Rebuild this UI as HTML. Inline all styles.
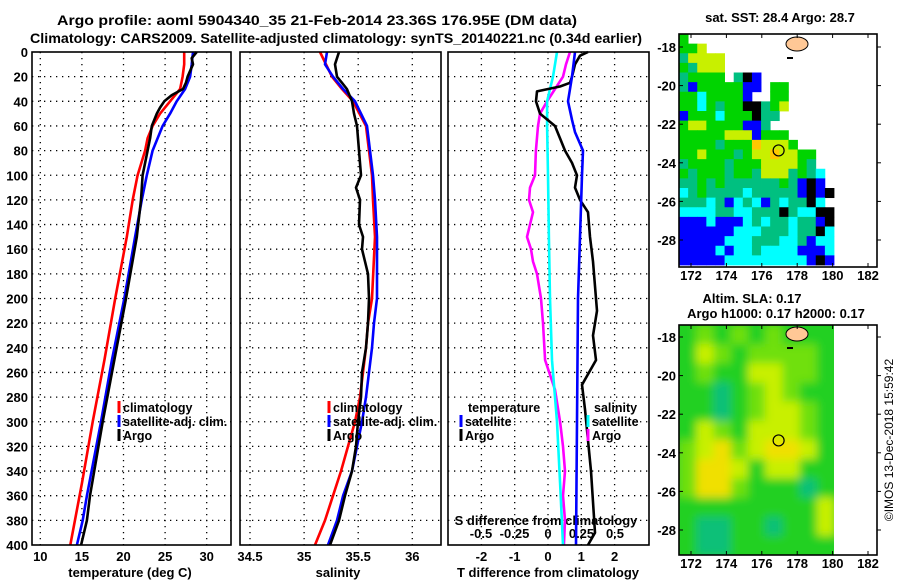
<!DOCTYPE html>
<html><head><meta charset="utf-8"><style>
html,body{margin:0;padding:0;background:#fff;}
svg{display:block;font-family:"Liberation Sans",sans-serif;font-weight:bold;}
</style></head><body>
<svg id="chart" width="900" height="580" viewBox="0 0 900 580" xmlns="http://www.w3.org/2000/svg">
<defs>
<filter id="blur" x="-10%" y="-10%" width="120%" height="120%"><feGaussianBlur stdDeviation="4.5"/></filter>
<clipPath id="clipSla"><rect x="679" y="325" width="155" height="230"/></clipPath>
</defs>
<text x="57" y="25" font-size="14" textLength="520" lengthAdjust="spacingAndGlyphs">Argo profile: aoml 5904340_35 21-Feb-2014 23.36S 176.95E (DM data)</text>
<text x="30" y="43" font-size="14" textLength="612" lengthAdjust="spacingAndGlyphs">Climatology: CARS2009. Satellite-adjusted climatology: synTS_20140221.nc (0.34d earlier)</text>
<g id="g"></g>
</svg>
<script>
// ---------- data ----------
const depthTicks=[0,20,40,60,80,100,120,140,160,180,200,220,240,260,280,300,320,340,360,380,400];
const tempTicks=[10,15,20,25,30];
const salTicks=[34.5,35,35.5,36];
const tdiffTicks=[-2,-1,0,1,2];
const sdiffTicks=[-0.5,-0.25,0,0.25,0.5];
const sdiffTickLabels=["-0.5","-0.25","0","0.25","0.5"];

const tClimDepth=[0,10,20,30,40,50,60,70,80,100,120,150,200,250,300,350,400];
const tClimVal=[27.3,27.3,27.1,26.8,25.6,24.4,23.5,22.9,22.6,21.7,21.1,20.4,19.0,17.7,16.3,15.0,13.6];
const tSatDepth=[0,10,20,30,40,50,60,80,100,120,150,200,250,300,360,380,400];
const tSatVal=[28.35,28.2,28.0,27.4,26.4,25.6,24.7,23.5,22.8,22.2,21.4,20.1,18.6,17.3,15.6,15.1,14.4];
const tArgoDepth=[0,5,10,20,25,30,35,40,45,50,60,70,80,100,120,150,200,250,300,360,380,400];
const tArgoVal=[28.8,28.2,28.35,27.7,27.5,27.15,25.8,24.9,24.4,24.0,23.4,23.2,22.9,22.3,22.1,21.6,20.3,18.9,17.5,15.97,15.6,14.9];

const sClimDepth=[0,20,30,40,60,80,100,120,150,200,220,240,260,280,300,320,340,360,380,400];
const sClimVal=[35.147,35.258,35.350,35.452,35.572,35.600,35.628,35.637,35.655,35.628,35.591,35.572,35.544,35.517,35.470,35.406,35.341,35.267,35.193,35.101];
const sSatDepth=[0,10,20,30,40,60,80,100,120,150,200,220,240,260,280,300,320,340,360,380,400];
const sSatVal=[35.212,35.193,35.267,35.360,35.470,35.581,35.609,35.637,35.655,35.674,35.674,35.646,35.628,35.600,35.572,35.535,35.489,35.443,35.360,35.304,35.221];
const sArgoDepth=[0,10,20,25,30,40,50,60,80,100,110,120,140,150,160,170,180,200,220,240,260,280,300,320,340,360,380,400];
const sArgoVal=[35.323,35.286,35.304,35.350,35.396,35.443,35.461,35.489,35.507,35.526,35.480,35.517,35.507,35.544,35.535,35.563,35.591,35.600,35.591,35.572,35.535,35.526,35.498,35.480,35.443,35.378,35.323,35.239];

const dtArgoDepth=[0,3,10,20,25,28,32,40,50,60,70,80,90,100,110,120,130,150,170,190,210,230,250,270,290,315,340,365,390,400];
const dtArgoVal=[1.20,0.96,0.81,0.72,0.66,0.36,-0.33,-0.36,-0.24,0.21,0.36,0.51,0.72,0.87,0.81,0.96,1.20,1.26,1.35,1.41,1.47,1.35,1.44,1.02,1.11,1.20,1.29,1.35,1.41,1.20];
const dtSatDepth=[0,20,40,55,65,80,100,150,200,300,400];
const dtSatVal=[0.81,0.72,0.60,0.72,0.81,1.05,1.02,0.96,0.90,0.87,0.84];
const dsSatDepth=[0,20,30,40,60,100,150,200,250,300,350,400];
const dsSatVal=[0.067,0.037,0.015,-0.007,-0.007,0,0.007,0.015,0.03,0.067,0.09,0.112];
const dsArgoDepth=[0,10,20,30,40,50,60,80,100,110,120,130,140,150,160,170,180,200,220,250,274,300,320,340,360,380,400];
const dsArgoVal=[0.164,0.134,0.112,0.052,-0.007,-0.06,-0.075,-0.09,-0.097,-0.134,-0.142,-0.112,-0.134,-0.157,-0.127,-0.112,-0.082,-0.052,-0.037,-0.022,0.052,0.09,0.112,0.127,0.112,0.127,0.119];

const lonTicks=[172,174,176,178,180,182];
const latTicks=[-18,-20,-22,-24,-26,-28];
const argoLon=176.95, argoLat=-23.36;
const sstRows=[
"G................",
"GGY..............",
"TYYYY............",
"GTYYY............",
"TGGGG.TKB........",
"TBGGGGGBB.GG.....",
"GGCGGGGB..GG.....",
"GGCGTGGKKTGY.....",
"BGGGCGGGKTT......",
"GYYGGGGBBT.......",
"GGGGGYYYBGGG.....",
"GGGGTGGGOYYYG....",
"GGYGGGTGYYOYYGG..",
"TGGGGTGGGYYYYGT..",
"GTGGGTGGTYYYTGTC.",
"TTGTGTTTTTTGTBKB.",
"CTGTTTTCTTTTTBKBK",
"TTTCTBCTCBTCTTKC.",
"CCCCTTCCTTTKTCCKK",
"BBBCBBBCTCTTCTTBK",
"BBBBBBCCCTTTCTTKC",
"BBBBBCCCTTTCCTBCC",
"BBBBCBCCTCCCCBBBC",
"BBBBBCCCCCCCCCBKB"];
const slaRows=[
[1,2,1,2,1,2,1,1,1],
[1,3,2,1,2,2,2,2,1],
[1,2,1,1,3,3,2,2,1],
[1,1,0,1,2,3,2,1,1],
[1,1,0,1,2,3,3,2,1],
[1,3,2,1,3,3,3,2,1],
[2,3,4,2,3,4,4,3,1],
[2,4,4,3,1,3,3,1,1],
[2,4,4,2,1,1,1,0,1],
[1,1,1,1,1,1,1,1,3],
[1,0,0,1,1,0,1,1,3],
[1,0,0,1,1,1,1,1,1]];

// ---------- helpers ----------
const NS="http://www.w3.org/2000/svg";
const G=document.getElementById('g');
function mk(tag,attrs,parent){const e=document.createElementNS(NS,tag);for(const k in attrs)e.setAttribute(k,attrs[k]);(parent||G).appendChild(e);return e;}
function txt(x,y,s,size,anchor){const t=mk('text',{x:x,y:y,'font-size':size||13,'text-anchor':anchor||'middle'});t.textContent=s;return t;}
const Y0=52,Y1=545;
const yD=d=>Y0+d*(Y1-Y0)/400;
const xT=t=>40.3+(t-10)*8.32;
const xS=s=>250+(s-34.5)*108.2;
const xDT=t=>548+t*33.3;
const xDS=s=>548+s*134;

const panels=[{x0:32,x1:231,name:'temperature'},{x0:240,x1:441,name:'salinity'},{x0:448,x1:649,name:'difference'}];
panels.forEach((p,i)=>{
  depthTicks.forEach(d=>{
    if(d>0&&d<400){const l=mk('line',{x1:p.x0,x2:p.x1,y1:yD(d),y2:yD(d),stroke:'#000','stroke-width':1.3,'stroke-dasharray':'1.3,4.7'});
    
    }
  });
});
function vgrid(p,ticks,fx){ticks.forEach(v=>{const x=fx(v);const l=mk('line',{x1:x,x2:x,y1:Y0,y2:Y1,stroke:'#000','stroke-width':1.3,'stroke-dasharray':'1.3,4.7'});

});}
vgrid(panels[0],tempTicks,xT);vgrid(panels[1],salTicks,xS);vgrid(panels[2],tdiffTicks,xDT);

depthTicks.forEach(d=>{const t=txt(28,yD(d)+5,String(d),13,'end');

});
tempTicks.forEach(v=>{const t=txt(xT(v),561,String(v),13);

});
salTicks.forEach(v=>{const t=txt(xS(v),561,String(v),13);

});
tdiffTicks.forEach(v=>{const t=txt(xDT(v),561,String(v),13);

});
sdiffTicks.forEach((v,i)=>{const t=txt(xDS(v),538,sdiffTickLabels[i],13);

});
let a=txt(130,577,'temperature (deg C)',13);
a=txt(338,577,'salinity',13);
a=txt(548,577,'T difference from climatology',13);
a=txt(546,525,'S difference from climatology',13);

function line(dep,val,fx,col,name){const pts=dep.map((d,i)=>fx(val[i]).toFixed(1)+','+yD(d).toFixed(1)).join(' ');
const l=mk('polyline',{points:pts,fill:'none',stroke:col,'stroke-width':2.6,'stroke-linejoin':'round'});

}
line(tClimDepth,tClimVal,xT,'#ff0000','temperature-climatology-line');
line(tSatDepth,tSatVal,xT,'#0000ff','temperature-satellite-line');
line(tArgoDepth,tArgoVal,xT,'#000000','temperature-argo-line');
line(sClimDepth,sClimVal,xS,'#ff0000','salinity-climatology-line');
line(sSatDepth,sSatVal,xS,'#0000ff','salinity-satellite-line');
line(sArgoDepth,sArgoVal,xS,'#000000','salinity-argo-line');
line(dsArgoDepth,dsArgoVal,xDS,'#ff00ff','s-diff-argo-line');
line(dsSatDepth,dsSatVal,xDS,'#00ffff','s-diff-satellite-line');
line(dtArgoDepth,dtArgoVal,xDT,'#000000','t-diff-argo-line');
line(dtSatDepth,dtSatVal,xDT,'#0000ff','t-diff-satellite-line');

panels.forEach(p=>{const r=mk('rect',{x:p.x0,y:Y0,width:p.x1-p.x0,height:Y1-Y0,fill:'none',stroke:'#000','stroke-width':1.6});

});

function leg(x,y,col,label,name){const b=mk('line',{x1:x,x2:x,y1:y-11,y2:y+1,stroke:col,'stroke-width':3});


const t=txt(x+4,y,label,12.5,'start');

}
leg(119,412,'#ff0000','climatology','legend-climatology');
leg(119,426,'#0000ff','satellite-adj. clim.','legend-satellite');
leg(119,440,'#000000','Argo','legend-argo');
leg(329,412,'#ff0000','climatology','legend2-climatology');
leg(329,426,'#0000ff','satellite-adj. clim.','legend2-satellite');
leg(329,440,'#000000','Argo','legend2-argo');
a=txt(468,412,'temperature',12.5,'start');
a=txt(594,412,'salinity',12.5,'start');
leg(461,426,'#0000ff','satellite','legend-t-satellite');
leg(461,440,'#000000','Argo','legend-t-argo');
leg(588,426,'#00ffff','satellite','legend-s-satellite');
leg(588,440,'#ff00ff','Argo','legend-s-argo');

// ---------- maps ----------
const MX0=679,MX1=877;
const xLon=l=>691+(l-172)*17.7;
const sstCol={G:'#00d400',Y:'#c8f000',T:'#00c080',C:'#00ffff',B:'#0000ff',K:'#000000',O:'#ffc800'};
const cw=155/17, ch=231/24;
sstRows.forEach((row,r)=>{for(let c=0;c<row.length;c++){const k=row[c];if(k==='.')continue;
const e=mk('rect',{x:(MX0+c*cw).toFixed(2),y:(34+r*ch).toFixed(2),width:(cw+0.4).toFixed(2),height:(ch+0.4).toFixed(2),fill:sstCol[k]});

}});
const slaCol=['#10c078','#20d020','#70e010','#c8f000','#f0e000'];
const gs=mk('g',{'clip-path':'url(#clipSla)'});
const gb=mk('g',{filter:'url(#blur)'},gs);
mk('rect',{x:670,y:315,width:175,height:250,fill:'#20d020'},gb);
const sw=155/9, sh=230/12;
slaRows.forEach((row,r)=>row.forEach((v,c)=>{const e=mk('rect',{x:(MX0+c*sw).toFixed(2),y:(325+r*sh).toFixed(2),width:(sw+0.5).toFixed(2),height:(sh+0.5).toFixed(2),fill:slaCol[v]},gb);

}));
function mapFrame(top,bot,latY0,name){
  const isl=mk('ellipse',{cx:797,cy:latY0-3,rx:11,ry:7,fill:'#ffc896',stroke:'#000','stroke-width':1});
  
  
  mk('rect',{x:787,y:latY0+10,width:6,height:2,fill:'#000'});
  const fr=mk('rect',{x:MX0,y:top,width:MX1-MX0,height:bot-top,fill:'none',stroke:'#000','stroke-width':1.6});
  
  
  lonTicks.forEach(l=>{const x=xLon(l);mk('line',{x1:x,x2:x,y1:bot,y2:bot-4,stroke:'#000'});mk('line',{x1:x,x2:x,y1:top,y2:top+4,stroke:'#000'});
    const t=txt(x,bot+13,String(l),13);
    
    });
  latTicks.forEach(la=>{const y=latY0+(-18-la)*19.3;mk('line',{x1:MX0,x2:MX0+4,y1:y,y2:y,stroke:'#000'});mk('line',{x1:MX1,x2:MX1+4,y1:y,y2:y,stroke:'#000'});
    const t=txt(676,y+5,String(la),13,'end');
    
    });
  const ci=mk('circle',{cx:xLon(argoLon),cy:latY0+(-18-argoLat)*19.3,r:5.5,fill:'none',stroke:'#000','stroke-width':1.2});
  
  
}
mapFrame(34,267,47,'sst-map');
mapFrame(325,555,337,'sla-map');
a=txt(780,22,'sat. SST: 28.4 Argo: 28.7',13);
a=txt(752,303,'Altim. SLA: 0.17',13);
a=txt(776,318,'Argo h1000: 0.17 h2000: 0.17',13);
a=mk('text',{x:0,y:0,'font-size':12,'font-weight':'normal','text-anchor':'middle',transform:'translate(893,440) rotate(-90)'});
a.textContent='©IMOS 13-Dec-2018 15:59:42';


</script>
</body></html>
